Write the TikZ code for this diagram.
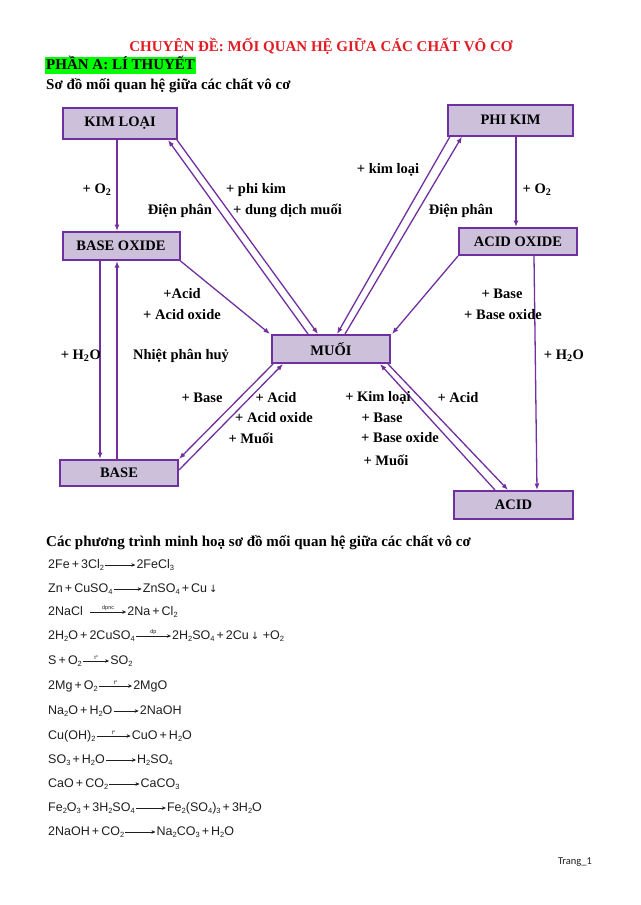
\documentclass[tikz,border=0pt]{standalone}
\usepackage{fontspec}
\setmainfont{Liberation Serif}
\newfontfamily\eqfont{Liberation Sans}
\newfontfamily\symfont{DejaVu Sans}
\newfontfamily\pagefont{Carlito}
\usetikzlibrary{arrows.meta,positioning}
\definecolor{boxfill}{RGB}{204,192,218}
\definecolor{purp}{RGB}{112,48,160}
\definecolor{titlered}{RGB}{226,28,36}
\definecolor{hlgreen}{RGB}{0,255,0}
\definecolor{eqgray}{RGB}{30,30,30}
\newcommand\chsub[1]{\raisebox{-2.6pt}{\fontsize{7.5}{8}\selectfont #1}}
\newcommand\pl{\,+\,}
\newcommand\dn{{\symfont\fontsize{10}{10}\selectfont ↓}}
\newcommand\tdeg{t\raisebox{2.2pt}{\fontsize{3.5}{4}\selectfont o}}
\begin{document}
\begin{tikzpicture}[x=1pt,y=-1pt,
  chem/.style={draw=purp, line width=2pt, fill=boxfill, font=\fontsize{14.5}{16}\selectfont\bfseries, inner sep=0pt},
  lbl/.style={font=\fontsize{14.5}{16}\selectfont\bfseries, inner sep=0pt},
  conn/.style={draw=purp, line width=1.3pt, -{Latex[length=6.5pt,width=5pt]}},
  eq/.style={font=\eqfont\fontsize{12.5}{14}\selectfont, text=eqgray, inner sep=0pt, text height=9pt, text depth=3pt},
  rx/.style={draw=eqgray, line width=0.5pt, -{Stealth[length=4pt,width=3.5pt]}, shorten <=1pt, shorten >=1pt},
  rxl/.style={font=\eqfont\fontsize{5.5}{6}\selectfont, text=eqgray, inner sep=0.8pt, above}
]
\fill[white] (0,0) rectangle (640,905);
\useasboundingbox (0,0) rectangle (640,905);

% headings
\node[font=\fontsize{15}{17}\selectfont\bfseries, text=titlered, inner sep=0pt] (title) at (321,46) {CHUYÊN ĐỀ: MỐI QUAN HỆ GIỮA CÁC CHẤT VÔ CƠ};
\node[font=\fontsize{15}{17}\selectfont\bfseries, fill=hlgreen, anchor=west, inner xsep=1pt, inner ysep=0pt, minimum height=17pt, text height=11pt, text depth=3.5pt] (parta) at (45,65.5) {PHẦN A: LÍ THUYẾT};
\node[font=\fontsize{15}{17}\selectfont\bfseries, anchor=west, inner sep=0pt] (sodo) at (46,86) {Sơ đồ mối quan hệ giữa các chất vô cơ};

% boxes
\node[chem, minimum width=114pt, minimum height=31pt] (kl) at (120,123.5) {KIM LOẠI};
\node[chem, minimum width=125pt, minimum height=31pt] (pk) at (510.5,120) {PHI KIM};
\node[chem, minimum width=117pt, minimum height=28pt] (bo) at (121,246) {BASE OXIDE};
\node[chem, minimum width=118pt, minimum height=27pt] (ao) at (518,241.5) {ACID OXIDE};
\node[chem, minimum width=118pt, minimum height=28pt] (mu) at (331,349) {MUỐI};
\node[chem, minimum width=118pt, minimum height=26pt] (ba) at (119,473) {BASE};
\node[chem, minimum width=119pt, minimum height=28pt] (ac) at (513.5,505) {ACID};

% connectors
\draw[conn] (117,0 |- kl.south) -- (117,0 |- bo.north);
\draw[conn] (308,0 |- mu.north) -- (168,0 |- kl.south);
\draw[conn] (177,0 |- kl.south) -- (318,0 |- mu.north);
\draw[conn] (450,0 |- pk.south) -- (337,0 |- mu.north);
\draw[conn] (345,0 |- mu.north) -- (462,0 |- pk.south);
\draw[conn] (516,0 |- pk.south) -- (516,0 |- ao.north);
\draw[conn] (bo.south east) -- (270,0 |- mu.north);
\draw[conn] (ao.south west) -- (392,0 |- mu.north);
\draw[conn] (534,0 |- ao.south) -- (537,0 |- ac.north);
\draw[conn] (100,0 |- bo.south) -- (100,0 |- ba.north);
\draw[conn] (117,0 |- ba.north) -- (117,0 |- bo.south);
\draw[conn] (273,0 |- mu.south) -- (ba.north east);
\draw[conn] (ba.east |- 0,470) -- (283,0 |- mu.south);
\draw[conn] (495,0 |- ac.north) -- (380,0 |- mu.south);
\draw[conn] (388,0 |- mu.south) -- (508,0 |- ac.north);

% labels
\node[lbl] (l1) at (388,170) {+ kim loại};
\node[lbl] (l2) at (97,190) {+ O\textsubscript{2}};
\node[lbl] (l3) at (256,190) {+ phi kim};
\node[lbl] (l4) at (537,190) {+ O\textsubscript{2}};
\node[lbl] (l5) at (180,211) {Điện phân};
\node[lbl, anchor=west] (l6) at (233,211) {+ dung dịch muối};
\node[lbl] (l7) at (461,211) {Điện phân};
\node[lbl] (l8) at (182,294) {+Acid};
\node[lbl] (l9) at (182,315) {+ Acid oxide};
\node[lbl] (l10) at (502,294) {+ Base};
\node[lbl] (l11) at (503,315) {+ Base oxide};
\node[lbl, anchor=east] (l12) at (101,356) {+ H\textsubscript{2}O};
\node[lbl] (l13) at (181,356) {Nhiệt phân huỷ};
\node[lbl] (l14) at (564,356) {+ H\textsubscript{2}O};
\node[lbl] (l15) at (202,398) {+ Base};
\node[lbl] (l16) at (276,398) {+ Acid};
\node[lbl] (l17) at (274,418) {+ Acid oxide};
\node[lbl] (l18) at (251,438) {+ Muối};
\node[lbl] (l19) at (378,398) {+ Kim loại};
\node[lbl] (l20) at (458,398) {+ Acid};
\node[lbl] (l21) at (382,418) {+ Base};
\node[lbl] (l22) at (400,438) {+ Base oxide};
\node[lbl] (l23) at (386,460) {+ Muối};

\node[font=\fontsize{15}{17}\selectfont\bfseries, anchor=west, inner sep=0pt] (cacpt) at (46,543) {Các phương trình minh hoạ sơ đồ mối quan hệ giữa các chất vô cơ};

% equations
\node[eq, anchor=west] (e1l) at (48,565) {2Fe\pl 3Cl\chsub{2}};
\node[eq, right=32pt of e1l] (e1r) {2FeCl\chsub{3}};
\draw[rx] (e1l.east) -- (e1r.west);

\node[eq, anchor=west] (e2l) at (48,589) {Zn\pl CuSO\chsub{4}};
\node[eq, right=30pt of e2l] (e2r) {ZnSO\chsub{4}\pl Cu\,\dn};
\draw[rx] (e2l.east) -- (e2r.west);

\node[eq, anchor=west] (e3l) at (48,612) {2NaCl};
\node[eq, right=44pt of e3l] (e3r) {2Na\pl Cl\chsub{2}};
\draw[rx, shorten <=7pt] (e3l.east) -- node[rxl, xshift=3pt] {dpnc} (e3r.west);

\node[eq, anchor=west] (e4l) at (48,636) {2H\chsub{2}O\pl 2CuSO\chsub{4}};
\node[eq, right=37pt of e4l] (e4r) {2H\chsub{2}SO\chsub{4}\pl 2Cu\,\dn\ +O\chsub{2}};
\draw[rx] (e4l.east) -- node[rxl] {dp} (e4r.west);

\node[eq, anchor=west] (e5l) at (48,661) {S\pl O\chsub{2}};
\node[eq, right=28pt of e5l] (e5r) {SO\chsub{2}};
\draw[rx] (e5l.east) -- node[rxl] {\tdeg} (e5r.west);

\node[eq, anchor=west] (e6l) at (48,686) {2Mg\pl O\chsub{2}};
\node[eq, right=35pt of e6l] (e6r) {2MgO};
\draw[rx] (e6l.east) -- node[rxl] {\tdeg} (e6r.west);

\node[eq, anchor=west] (e7l) at (48,711) {Na\chsub{2}O\pl H\chsub{2}O};
\node[eq, right=27pt of e7l] (e7r) {2NaOH};
\draw[rx] (e7l.east) -- (e7r.west);

\node[eq, anchor=west] (e8l) at (48,736) {Cu(OH)\chsub{2}};
\node[eq, right=36pt of e8l] (e8r) {CuO\pl H\chsub{2}O};
\draw[rx] (e8l.east) -- node[rxl] {\tdeg} (e8r.west);

\node[eq, anchor=west] (e9l) at (48,760) {SO\chsub{3}\pl H\chsub{2}O};
\node[eq, right=32pt of e9l] (e9r) {H\chsub{2}SO\chsub{4}};
\draw[rx] (e9l.east) -- (e9r.west);

\node[eq, anchor=west] (e10l) at (48,784) {CaO\pl CO\chsub{2}};
\node[eq, right=32pt of e10l] (e10r) {CaCO\chsub{3}};
\draw[rx] (e10l.east) -- (e10r.west);

\node[eq, anchor=west] (e11l) at (48,808) {Fe\chsub{2}O\chsub{3}\pl 3H\chsub{2}SO\chsub{4}};
\node[eq, right=32pt of e11l] (e11r) {Fe\chsub{2}(SO\chsub{4})\chsub{3}\pl 3H\chsub{2}O};
\draw[rx] (e11l.east) -- (e11r.west);

\node[eq, anchor=west] (e12l) at (48,832) {2NaOH\pl CO\chsub{2}};
\node[eq, right=32pt of e12l] (e12r) {Na\chsub{2}CO\chsub{3}\pl H\chsub{2}O};
\draw[rx] (e12l.east) -- (e12r.west);

\node[font=\pagefont\fontsize{10.5}{12}\selectfont, text=eqgray, inner sep=0pt] (page) at (575,862) {Trang\_1};
\end{tikzpicture}
\end{document}
